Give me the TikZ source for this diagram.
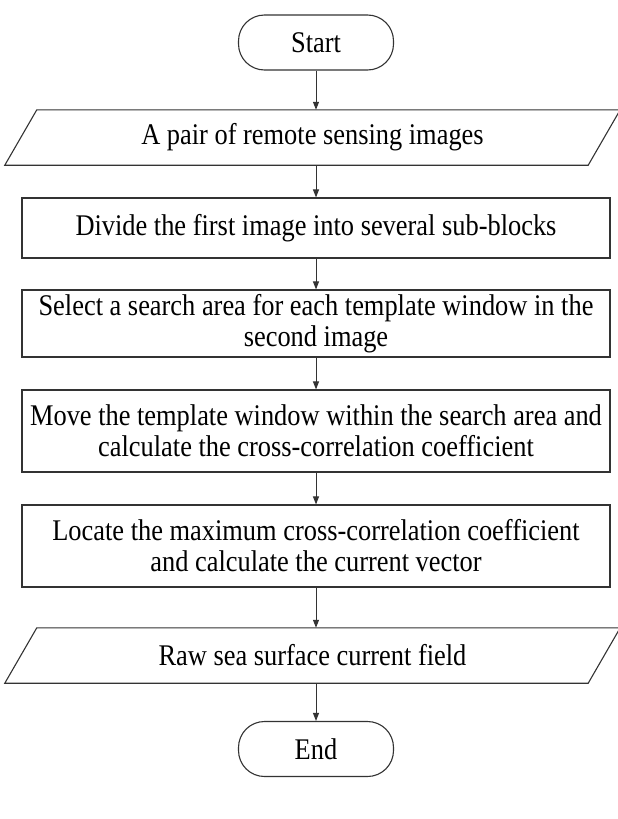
\documentclass[tikz,border=0pt]{standalone}
\usepackage{fontspec}
\setmainfont[FakeStretch=0.88]{Liberation Serif}
\usetikzlibrary{arrows.meta}
\begin{document}
\begin{tikzpicture}[x=1pt,y=-1pt,
  every node/.style={font=\fontsize{30}{31}\selectfont, align=center, inner sep=0pt},
  term/.style={draw=black!80, line width=1.1pt, rounded corners=26pt, minimum width=155pt, minimum height=55pt},
  procbox/.style={draw=black!80, line width=1.1pt, minimum width=588pt},
  iobox/.style={minimum width=583pt, minimum height=55pt},
  para/.style={draw=black!80, line width=1.1pt},
  arr/.style={draw=black!80, line width=1pt, -{Triangle[length=8pt,width=6pt]}}
]
\useasboundingbox (0,0) rectangle (618,819);
\node[term] (start) at (316,42.5) {Start};
\node[iobox] (in) at (312.5,137.5) {A pair of remote sensing images};
\draw[para] ([xshift=16pt]in.north west) -- ([xshift=16pt]in.north east) -- ([xshift=-16pt]in.south east) -- ([xshift=-16pt]in.south west) -- cycle;
\node[procbox, minimum height=60pt] (divide) at (316,228) {Divide the first image into several sub-blocks};
\node[procbox, minimum height=67pt] (select) at (316,323.5) {Select a search area for each template window in the\\ second image};
\node[procbox, minimum height=82pt] (move) at (316,431) {Move the template window within the search area and\\ calculate the cross-correlation coefficient};
\node[procbox, minimum height=82pt] (locate) at (316,546) {Locate the maximum cross-correlation coefficient\\ and calculate the current vector};
\node[iobox] (out) at (312.5,655.5) {Raw sea surface current field};
\draw[para] ([xshift=16pt]out.north west) -- ([xshift=16pt]out.north east) -- ([xshift=-16pt]out.south east) -- ([xshift=-16pt]out.south west) -- cycle;
\node[term] (end) at (316,749) {End};
\draw[arr] (start.south) -- (start.south |- in.north);
\draw[arr] (start.south |- in.south) -- (divide.north);
\draw[arr] (divide.south) -- (select.north);
\draw[arr] (select.south) -- (move.north);
\draw[arr] (move.south) -- (locate.north);
\draw[arr] (locate.south) -- (locate.south |- out.north);
\draw[arr] (locate.south |- out.south) -- (end.north);
\end{tikzpicture}
\end{document}
